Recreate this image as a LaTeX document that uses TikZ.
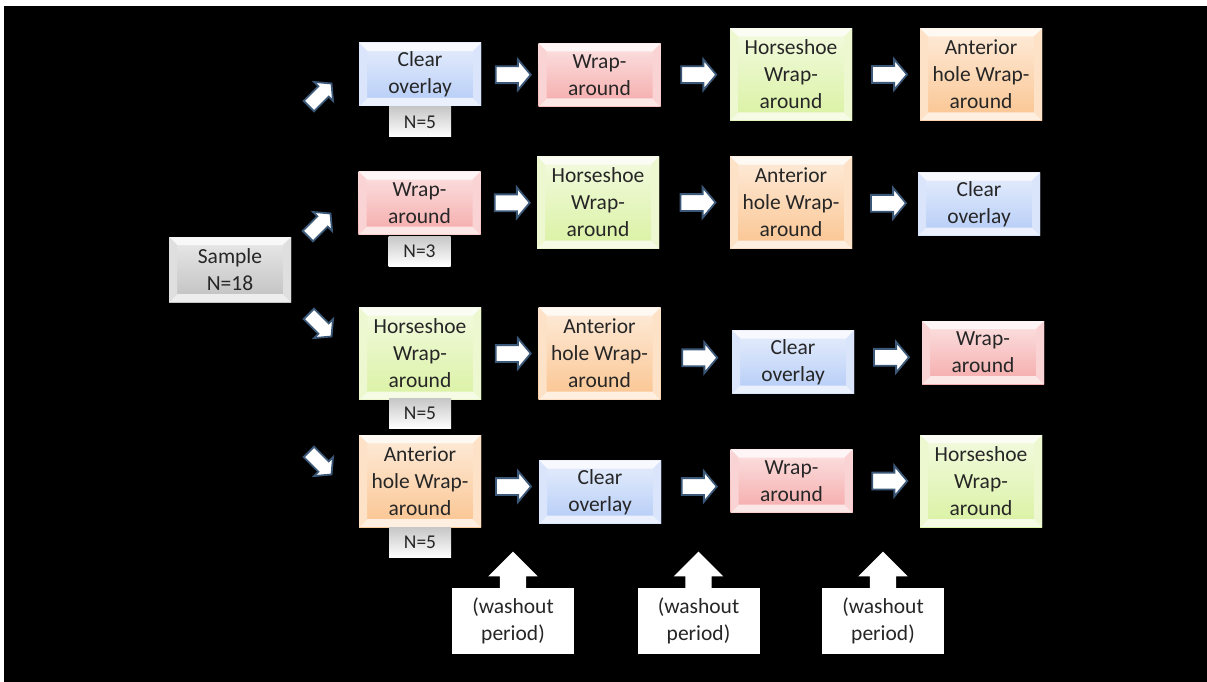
\documentclass[tikz,border=0pt]{standalone}
\usepackage{fontspec}
\setmainfont{Carlito}
\usetikzlibrary{shapes.arrows,calc}
\definecolor{blueC}{RGB}{172,198,246}
\definecolor{redC}{RGB}{244,160,160}
\definecolor{greenC}{RGB}{214,240,152}
\definecolor{orangeC}{RGB}{250,190,132}
\definecolor{grayC}{RGB}{185,185,185}
\definecolor{arrowblue}{RGB}{60,88,120}
\newcommand\boxfont{\fontsize{21.5}{27}\selectfont}
\newcommand\tagfont{\fontsize{19.5}{22}\selectfont}
\tikzset{
  colbox/.style={rectangle, inner sep=0pt, minimum width=122pt, align=center,
    font=\boxfont, text=black!85, top color=#1!30!white, bottom color=#1!90!white,
    path picture={
      \fill[#1!10!white] (path picture bounding box.north west) -- (path picture bounding box.north east)
        -- ++(-8pt,-8pt) -- ($(path picture bounding box.north west)+(8pt,-8pt)$) -- cycle;
      \fill[#1!25!white] (path picture bounding box.south west) -- (path picture bounding box.south east)
        -- ++(-8pt,8pt) -- ($(path picture bounding box.south west)+(8pt,8pt)$) -- cycle;
      \fill[#1!45!white] (path picture bounding box.north west) -- ++(8pt,-8pt)
        -- ($(path picture bounding box.south west)+(8pt,8pt)$) -- (path picture bounding box.south west) -- cycle;
      \fill[#1!45!white] (path picture bounding box.north east) -- ++(-8pt,-8pt)
        -- ($(path picture bounding box.south east)+(-8pt,8pt)$) -- (path picture bounding box.south east) -- cycle;
    }},
  short/.style={minimum height=63pt},
  tall/.style={minimum height=92pt},
  tagbox/.style={rectangle, inner sep=0pt, minimum width=62pt, minimum height=30pt,
    font=\tagfont, text=black!85, top color=black!22, bottom color=white},
  harrow/.style={single arrow, draw=arrowblue, line width=1.8pt, fill=white,
    minimum height=35pt, inner xsep=0pt, inner ysep=7.5pt,
    single arrow head extend=7pt, single arrow tip angle=100},
  darrow/.style={single arrow, draw=arrowblue, line width=1.8pt, fill=white,
    minimum height=32pt, inner xsep=0pt, inner ysep=6.5pt,
    single arrow head extend=6pt, single arrow tip angle=100},
  uparrow/.style={single arrow, fill=white, draw=none, minimum height=37pt,
    inner xsep=0pt, inner ysep=13pt, single arrow head extend=11.5pt,
    single arrow tip angle=90, rotate=90, anchor=tail},
  washbox/.style={rectangle, fill=white, inner sep=0pt, minimum width=122pt,
    minimum height=66pt, align=center, font=\boxfont, text=black!85},
}
\begin{document}
\begin{tikzpicture}[x=1pt,y=-1pt]
\useasboundingbox (0,0) rectangle (1207,682);
\fill[white] (0,0) rectangle (1207,682);
\fill[black] (4,6) rectangle (1207,682);
% sample
\node[colbox=grayC, minimum height=65pt] (S) at (230,269.5) {Sample\\N=18};
% row 1
\node[colbox=blueC, short] (A1) at (420,74.5) {Clear\\overlay};
\node[colbox=redC, short] (B1) at (599.5,75) {Wrap-\\around};
\node[colbox=greenC, tall] (C1) at (791,74.5) {Horseshoe\\Wrap-\\around};
\node[colbox=orangeC, tall] (D1) at (981,74.5) {Anterior\\hole Wrap-\\around};
\node[tagbox] (T1) at (420,122) {N=5};
% row 2
\node[colbox=redC, short] (A2) at (419.5,203) {Wrap-\\around};
\node[colbox=greenC, tall] (B2) at (598,202.5) {Horseshoe\\Wrap-\\around};
\node[colbox=orangeC, tall] (C2) at (791,202.5) {Anterior\\hole Wrap-\\around};
\node[colbox=blueC, short] (D2) at (979,204) {Clear\\overlay};
\node[tagbox] (T2) at (419.5,251) {N=3};
% row 3
\node[colbox=greenC, tall] (A3) at (420,353.5) {Horseshoe\\Wrap-\\around};
\node[colbox=orangeC, tall] (B3) at (599.5,353.5) {Anterior\\hole Wrap-\\around};
\node[colbox=blueC, short] (C3) at (793,362) {Clear\\overlay};
\node[colbox=redC, short] (D3) at (983,352.5) {Wrap-\\around};
\node[tagbox] (T3) at (420,413.5) {N=5};
% row 4
\node[colbox=orangeC, tall] (A4) at (420,481) {Anterior\\hole Wrap-\\around};
\node[colbox=blueC, short] (B4) at (600,492) {Clear\\overlay};
\node[colbox=redC, short] (C4) at (791.5,481) {Wrap-\\around};
\node[colbox=greenC, tall] (D4) at (981,481) {Horseshoe\\Wrap-\\around};
\node[tagbox] (T4) at (420,542.5) {N=5};
% horizontal arrows
\foreach \r in {1,2,3,4}{
  \node[harrow] (ab\r) at ($(A\r.east)!0.5!(B\r.west)$) {};
  \node[harrow] (bc\r) at ($(B\r.east)!0.5!(C\r.west)$) {};
  \node[harrow] (cd\r) at ($(C\r.east)!0.5!(D\r.west)$) {};
}
% diagonal arrows
\node[darrow, rotate=45] (s1) at (318,97) {};
\node[darrow, rotate=45] (s2) at (317,227) {};
\node[darrow, rotate=-45] (s3) at (318,323) {};
\node[darrow, rotate=-45] (s4) at (318,461) {};
% washout
\node[washbox] (W1) at (513,621) {(washout\\period)};
\node[washbox] (W2) at (698.5,621) {(washout\\period)};
\node[washbox] (W3) at (883,621) {(washout\\period)};
\node[uparrow] (u1) at ($(W1.north)+(0,1)$) {};
\node[uparrow] (u2) at ($(W2.north)+(0,1)$) {};
\node[uparrow] (u3) at ($(W3.north)+(0,1)$) {};
\end{tikzpicture}
\end{document}
